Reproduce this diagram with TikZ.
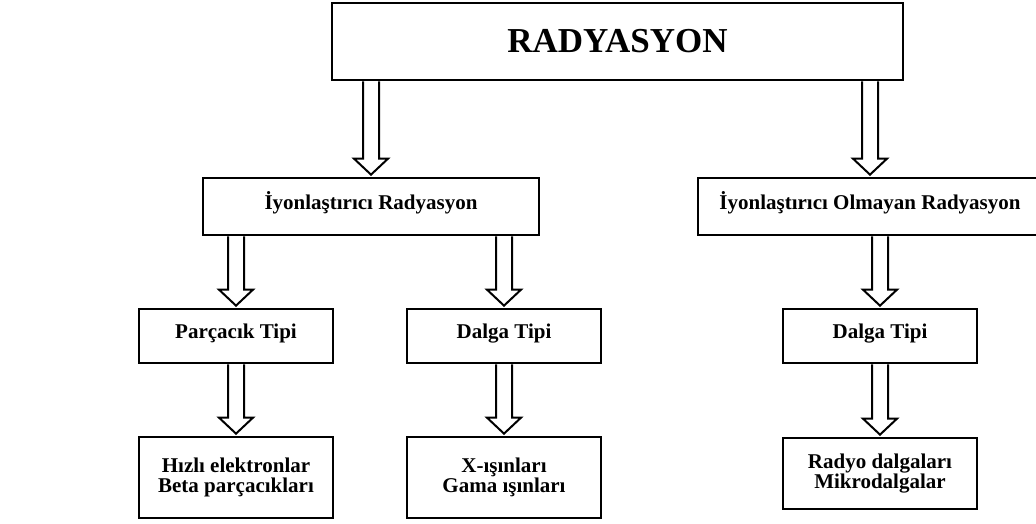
\documentclass[tikz,border=0pt]{standalone}
\usepackage{fontspec}
\setmainfont{Liberation Serif}
\usetikzlibrary{calc}

% hollow block arrow from a box down to the box below it
\newcommand{\hollowarr}[2]{%
  \draw[harr] let \p1=(#1.south -| #2.north), \p2=(#2.north) in
    (\x1-8pt,\y1) -- (\x1-8pt,\y2+18pt) -- (\x1-17pt,\y2+18pt) -- (\x1,\y2+2pt)
    -- (\x1+17pt,\y2+18pt) -- (\x1+8pt,\y2+18pt) -- (\x1+8pt,\y1);}

\begin{document}
\begin{tikzpicture}[
        x=1pt, y=-1pt,
        box/.style={rectangle, draw, line width=2.7pt, inner sep=0pt,
                    align=center, minimum width=194pt, minimum height=54pt,
                    font=\bfseries\fontsize{21}{19.5}\selectfont},
        one/.style={text height=14pt, text depth=9pt},
        harr/.style={line width=2pt, line join=miter},
    ]
    \useasboundingbox (0,0) rectangle (1036,524);

    \node[box, minimum width=571pt, minimum height=77pt,
          font=\bfseries\fontsize{35}{40}\selectfont] (rad) at (617.5,41.5) {RADYASYON};

    \node[box, one, minimum width=336pt, minimum height=57pt] (iyon)    at (371,206.5) {İyonlaştırıcı\ Radyasyon};
    \node[box, one, minimum width=344pt, minimum height=57pt] (noniyon) at (870,206.5) {İyonlaştırıcı\ Olmayan\ Radyasyon};

    \node[box, one] (parc)   at (236,336) {Parçacık Tipi};
    \node[box, one] (dalgaA) at (504,336) {Dalga Tipi};
    \node[box, one] (dalgaB) at (880,336) {Dalga Tipi};

    \node[box, minimum height=81pt] (hizli) at (236,477.5) {Hızlı elektronlar\\Beta parçacıkları};
    \node[box, minimum height=81pt] (xray)  at (504,477.5) {X-ışınları\\Gama ışınları};
    \node[box, minimum height=71pt] (radyo) at (880,473.5) {Radyo dalgaları\\Mikrodalgalar};

    \hollowarr{rad}{iyon}
    \hollowarr{rad}{noniyon}
    \hollowarr{iyon}{parc}
    \hollowarr{iyon}{dalgaA}
    \hollowarr{noniyon}{dalgaB}
    \hollowarr{parc}{hizli}
    \hollowarr{dalgaA}{xray}
    \hollowarr{dalgaB}{radyo}
\end{tikzpicture}
\end{document}
